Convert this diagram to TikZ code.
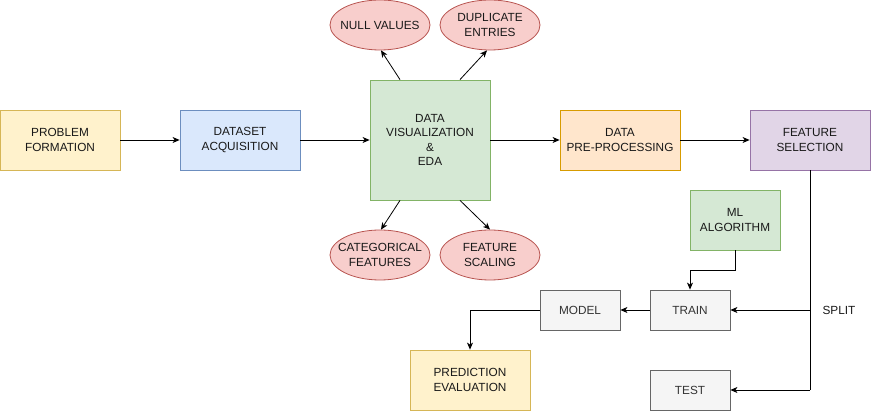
\documentclass[tikz,border=0pt]{standalone}
\usepackage{fontspec}
\setmainfont{Liberation Sans}
\usetikzlibrary{arrows.meta,shapes.geometric}
\definecolor{yfill}{HTML}{FFF2CC}\definecolor{ydraw}{HTML}{D6B656}
\definecolor{bfill}{HTML}{DAE8FC}\definecolor{bdraw}{HTML}{6C8EBF}
\definecolor{gfill}{HTML}{D5E8D4}\definecolor{gdraw}{HTML}{82B366}
\definecolor{ofill}{HTML}{FFE6CC}\definecolor{odraw}{HTML}{D79B00}
\definecolor{pfill}{HTML}{E1D5E7}\definecolor{pdraw}{HTML}{9673A6}
\definecolor{rfill}{HTML}{F8CECC}\definecolor{rdraw}{HTML}{B85450}
\definecolor{kfill}{HTML}{F5F5F5}\definecolor{kdraw}{HTML}{666666}
\definecolor{ktext}{HTML}{333333}
\begin{document}
\begin{tikzpicture}[x=1pt,y=-1pt,
  every node/.style={font=\fontsize{11.8}{14.5}\selectfont, align=center, text=black!90, inner sep=0pt, line width=0.8pt},
  box/.style={rectangle, minimum width=120pt, minimum height=60pt},
  yb/.style={box, fill=yfill, draw=ydraw},
  bb/.style={box, fill=bfill, draw=bdraw},
  gb/.style={box, fill=gfill, draw=gdraw},
  ob/.style={box, fill=ofill, draw=odraw},
  pb/.style={box, fill=pfill, draw=pdraw},
  kb/.style={rectangle, minimum width=80pt, minimum height=40pt, fill=kfill, draw=kdraw, text=ktext},
  ell/.style={ellipse, minimum width=100pt, minimum height=50pt, fill=rfill, draw=rdraw},
  conn/.style={draw=black, line width=0.8pt, -{Stealth[length=7pt,width=6pt,inset=2pt]}}
]
\useasboundingbox (0,0) rectangle (871,411);
\node[yb] (prob) at (60,140) {PROBLEM\\FORMATION};
\node[bb] (data) at (240,140) {DATASET\\ACQUISITION};
\node[gb, minimum height=120pt] (eda) at (430,140) {DATA\\VISUALIZATION\\\&\\EDA};
\node[ob] (pre) at (620,140) {DATA\\PRE-PROCESSING};
\node[pb] (fs) at (810,140) {FEATURE\\SELECTION};
\node[ell] (null) at (380,25) {};
\node at (null) {NULL VALUES};
\node[ell] (dup) at (490,25) {};
\node at (dup) {DUPLICATE\\ENTRIES};
\node[ell] (cat) at (380,255) {};
\node at (cat) {CATEGORICAL\\FEATURES};
\node[ell] (scal) at (490,255) {};
\node at (scal) {FEATURE\\SCALING};
\node[gb, minimum width=90pt] (ml) at (735,220) {ML\\ALGORITHM};
\node[kb] (train) at (690,310) {TRAIN};
\node[kb] (model) at (580,310) {MODEL};
\node[kb] (test) at (690,390) {TEST};
\node[yb] (pred) at (470,380) {PREDICTION\\EVALUATION};
\node (split) at (839,310) {SPLIT};
\coordinate (corner) at (810,390);
\coordinate (branch) at (810,310);

\draw[conn] (prob) -- (data);
\draw[conn] (data) -- (eda.west |- data.east);
\draw[conn] (eda.east |- pre.west) -- (pre);
\draw[conn] (pre) -- (fs);
\draw[conn] ([xshift=-30pt]eda.north) -- ([xshift=1pt]null.south);
\draw[conn] ([xshift=30pt]eda.north) -- ([xshift=-3pt]dup.south);
\draw[conn] ([xshift=-30pt]eda.south) -- ([xshift=1pt]cat.north);
\draw[conn] ([xshift=30pt]eda.south) -- (scal.north);
\draw[line width=0.8pt] (fs.south) -- (corner);
\draw[conn] (corner) -- (test.east);
\draw[conn] (branch) -- (train.east);
\draw[conn] (ml.south) |- (690,270) -- (train.north);
\draw[conn] (train) -- (model);
\draw[conn] (model.west) -| (pred.north);
\end{tikzpicture}
\end{document}
